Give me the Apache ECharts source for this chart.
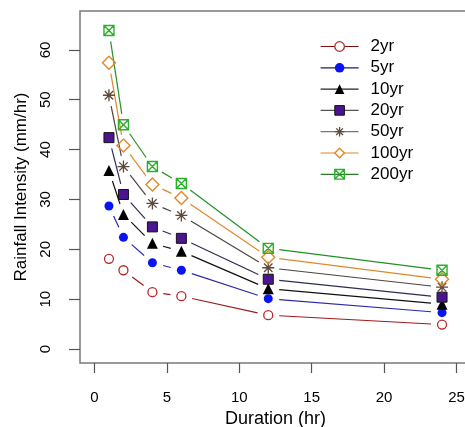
<!DOCTYPE html>
<html><head><meta charset="utf-8">
<script src="https://cdn.jsdelivr.net/npm/echarts@6/dist/echarts.min.js"></script>
<style>html,body{margin:0;padding:0;background:#fff}#c{width:465px;height:427px}</style>
</head><body><div id="c"></div>
<script>
// ---- data ----
const durations = [1, 2, 4, 6, 12, 24];
const seriesNames = ['2yr', '5yr', '10yr', '20yr', '50yr', '100yr', '200yr'];
const y2yr   = [18.1, 15.8, 11.4, 10.6, 6.8, 4.9];
const y5yr   = [28.7, 22.4, 17.3, 15.8, 10.1, 7.3];
const y10yr  = [35.8, 27.0, 21.2, 19.6, 12.1, 9.0];
const y20yr  = [42.4, 31.0, 24.5, 22.2, 14.0, 10.4];
const y50yr  = [50.9, 36.6, 29.2, 26.8, 16.3, 12.4];
const y100yr = [57.4, 40.8, 33.0, 30.3, 18.4, 14.0];
const y200yr = [63.9, 45.0, 36.6, 33.2, 20.2, 15.8];
const xTickValues = [0, 5, 10, 15, 20, 25];
const yTickValues = [0, 10, 20, 30, 40, 50, 60];
const xTitle = 'Duration (hr)';
const yTitle = 'Rainfall Intensity (mm/hr)';

// ---- styles ----
const FONT = 'Liberation Sans, Arial, sans-serif';
const GAP = 11;
const allValues = [y2yr, y5yr, y10yr, y20yr, y50yr, y100yr, y200yr];
const styles = [
  {line: '#9b1c1c', symbol: 'circle', size: 9, fill: 'rgba(255,255,255,0)', legendFill: '#fff', border: '#b82828', bw: 1.3},
  {line: '#2a2aa8', symbol: 'circle', size: 9, fill: '#0a14f0', legendFill: '#0a14f0', border: '#0a14f0', bw: 0},
  {line: '#111111', symbol: 'triangle', size: 11, fill: '#000', legendFill: '#000', border: '#000', bw: 0},
  {line: '#2e2c55', symbol: 'rect', size: 10, fill: '#4b1590', legendFill: '#4b1590', border: '#111', bw: 1},
  {line: '#4e4440', symbol: 'path://M5 0L5 10M0 5L10 5M1.5 1.5L8.5 8.5M8.5 1.5L1.5 8.5', size: 12, fill: 'none', legendFill: 'none', border: '#5e4a3a', bw: 1.3},
  {line: '#e0892a', symbol: 'diamond', size: 13, fill: 'rgba(255,255,255,0)', legendFill: '#fff', border: '#e0892a', bw: 1.4},
  {line: '#249124', symbol: 'path://M0 0L10 0L10 10L0 10Z M0 0L10 10M10 0L0 10', size: 10, fill: 'none', legendFill: 'none', border: '#2ab02a', bw: 1.4}
];
const legendLineColors = ['#7a1010', '#1a1a70', '#222', '#555', '#777', '#e0892a', '#2a7a2a'];

function gapRenderer(color) {
  return function (params, api) {
    const p1 = api.coord([api.value(0), api.value(1)]);
    const p2 = api.coord([api.value(2), api.value(3)]);
    const dx = p2[0] - p1[0], dy = p2[1] - p1[1];
    const L = Math.hypot(dx, dy);
    if (L <= 2 * GAP) return;
    const ux = dx / L, uy = dy / L;
    return {
      type: 'line',
      shape: {x1: p1[0] + ux * GAP, y1: p1[1] + uy * GAP, x2: p2[0] - ux * GAP, y2: p2[1] - uy * GAP},
      style: {stroke: color, lineWidth: 1.2}
    };
  };
}

const series = [];
seriesNames.forEach((name, k) => {
  const vals = allValues[k];
  const st = styles[k];
  const segs = [];
  for (let i = 0; i < durations.length - 1; i++) {
    segs.push([durations[i], vals[i], durations[i + 1], vals[i + 1]]);
  }
  series.push({
    type: 'custom', name: name + '-lines', data: segs,
    encode: {x: [0, 2], y: [1, 3]},
    renderItem: gapRenderer(st.line), silent: true, z: 2 + k
  });
  series.push({
    type: 'line', name: name,
    data: durations.map((d, i) => [d, vals[i]]),
    symbol: st.symbol, symbolSize: st.size, showSymbol: true,
    itemStyle: {color: st.fill, borderColor: st.border, borderWidth: st.bw},
    lineStyle: {opacity: 0, color: st.line},
    emphasis: {disabled: true}, z: 10 + k
  });
});

const chart = echarts.init(document.getElementById('c'), null, {renderer: 'canvas'});
chart.setOption({
  animation: false,
  backgroundColor: '#fff',
  grid: {left: 80, top: 11, width: 391, height: 352, containLabel: false, outerBoundsMode: 'none',
         show: true, borderColor: '#7a7a7a', borderWidth: 1.5, backgroundColor: 'transparent'},
  xAxis: {
    type: 'value', min: -1, max: 26,
    axisLine: {show: false, onZero: false}, splitLine: {show: false},
    axisTick: {show: true, inside: false, customValues: xTickValues, length: 10, lineStyle: {color: '#555', width: 1.2}},
    axisLabel: {customValues: xTickValues, margin: 27, fontSize: 15, color: '#000', fontFamily: FONT},
    name: xTitle, nameLocation: 'middle', nameGap: 45,
    nameTextStyle: {fontSize: 18, color: '#000', fontFamily: FONT}
  },
  yAxis: {
    type: 'value', min: -2.8, max: 67.8,
    axisLine: {show: false, onZero: false}, splitLine: {show: false},
    axisTick: {show: true, inside: false, customValues: yTickValues, length: 11, lineStyle: {color: '#555', width: 1.2}},
    axisLabel: {customValues: yTickValues, rotate: 90, margin: 27, fontSize: 15, color: '#000', fontFamily: FONT},
    name: yTitle, nameLocation: 'middle', nameGap: 46,
    nameTextStyle: {fontSize: 17, color: '#000', fontFamily: FONT}
  },
  legend: {
    orient: 'vertical', left: 315, top: 33, itemWidth: 38, itemHeight: 12, itemGap: 4.3,
    selectedMode: false,
    textStyle: {fontSize: 17, lineHeight: 17, color: '#000', fontFamily: FONT, padding: [0, 0, 0, 7]},
    data: seriesNames.map((name, k) => ({
      name: name,
      itemStyle: {color: styles[k].legendFill, borderColor: styles[k].border, borderWidth: styles[k].bw, opacity: 1},
      lineStyle: {color: legendLineColors[k], width: 1.2, opacity: 1, type: 'solid'}
    }))
  },
  series: series
});
</script>
</body></html>
